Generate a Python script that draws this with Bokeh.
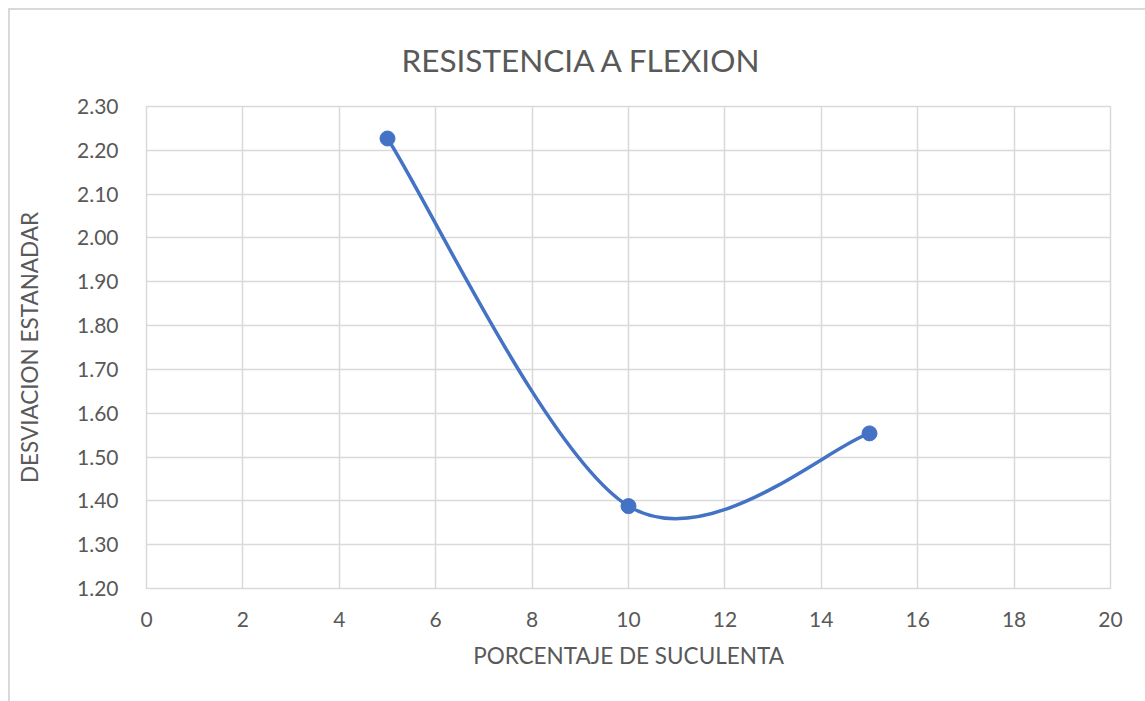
from bokeh.plotting import figure
from bokeh.embed import file_html
from bokeh.resources import INLINE
from bokeh.models import FixedTicker, NumeralTickFormatter, Range1d, Title

# ---- data ----
porcentaje = [5, 10, 15]
desviacion = [2.227, 1.388, 1.554]
x_ticks = [0, 2, 4, 6, 8, 10, 12, 14, 16, 18, 20]
y_ticks = [1.20, 1.30, 1.40, 1.50, 1.60, 1.70, 1.80, 1.90, 2.00, 2.10, 2.20, 2.30]
title_text = "RESISTENCIA A FLEXION"
x_title = "PORCENTAJE DE SUCULENTA"
y_title = "DESVIACION ESTANADAR"

FONT = "Lato"
TXT = "#595959"
GRID = "#d9d9d9"
BLUE = "#4472C4"

p = figure(width=1137, height=693, output_backend="svg", toolbar_location=None,
           x_range=Range1d(0, 20), y_range=Range1d(1.2, 2.3),
           min_border_left=136, min_border_right=37, min_border_top=96, min_border_bottom=115)
p.styles = {"border-left": "2px solid #d9d9d9", "border-top": "2px solid #d9d9d9",
            "box-sizing": "border-box", "margin-left": "8px", "margin-top": "8px"}

p.background_fill_color = "white"
p.border_fill_color = "white"
p.outline_line_color = GRID
p.outline_line_width = 1.5

for ax in (p.xaxis[0], p.yaxis[0]):
    ax.axis_line_color = None
    ax.major_tick_line_color = None
    ax.minor_tick_line_color = None
    ax.major_label_text_font = FONT
    ax.major_label_text_font_size = "21px"
    ax.major_label_text_color = TXT
    ax.axis_label_text_font = FONT
    ax.axis_label_text_font_size = "22.5px"
    ax.axis_label_text_color = TXT
    ax.axis_label_text_font_style = "normal"

p.xaxis[0].ticker = FixedTicker(ticks=x_ticks)
p.yaxis[0].ticker = FixedTicker(ticks=y_ticks)
p.yaxis[0].formatter = NumeralTickFormatter(format="0.00")
p.xaxis[0].major_label_standoff = 17
p.yaxis[0].major_label_standoff = 22
p.xaxis[0].axis_label = x_title
p.yaxis[0].axis_label = y_title
p.xaxis[0].axis_label_standoff = 12
p.yaxis[0].axis_label_standoff = 31

p.xgrid[0].ticker = FixedTicker(ticks=x_ticks)
p.ygrid[0].ticker = FixedTicker(ticks=y_ticks)
p.xgrid[0].grid_line_color = GRID
p.ygrid[0].grid_line_color = GRID
p.xgrid[0].grid_line_width = 1.5
p.ygrid[0].grid_line_width = 1.5

# smoothed line (Catmull-Rom style bezier through the data points, as Excel draws)
n = len(porcentaje)
x0s, y0s, x1s, y1s, cx0, cy0, cx1, cy1 = [], [], [], [], [], [], [], []
for i in range(n - 1):
    ia = max(i - 1, 0)
    ib = min(i + 2, n - 1)
    x0s.append(porcentaje[i]); y0s.append(desviacion[i])
    x1s.append(porcentaje[i + 1]); y1s.append(desviacion[i + 1])
    cx0.append(porcentaje[i] + (porcentaje[i + 1] - porcentaje[ia]) / 6)
    cy0.append(desviacion[i] + (desviacion[i + 1] - desviacion[ia]) / 6)
    cx1.append(porcentaje[i + 1] - (porcentaje[ib] - porcentaje[i]) / 6)
    cy1.append(desviacion[i + 1] - (desviacion[ib] - desviacion[i]) / 6)

p.bezier(x0=x0s, y0=y0s, x1=x1s, y1=y1s, cx0=cx0, cy0=cy0, cx1=cx1, cy1=cy1,
         line_color=BLUE, line_width=3.5)
p.scatter(porcentaje, desviacion, size=15, fill_color=BLUE, line_color=BLUE)

p.add_layout(Title(text=title_text, align="left", offset=255, standoff=56,
                   text_font=FONT, text_font_size="31.5px", text_color=TXT,
                   text_font_style="normal"), "above")

open("out.html", "w").write(file_html(p, INLINE))
